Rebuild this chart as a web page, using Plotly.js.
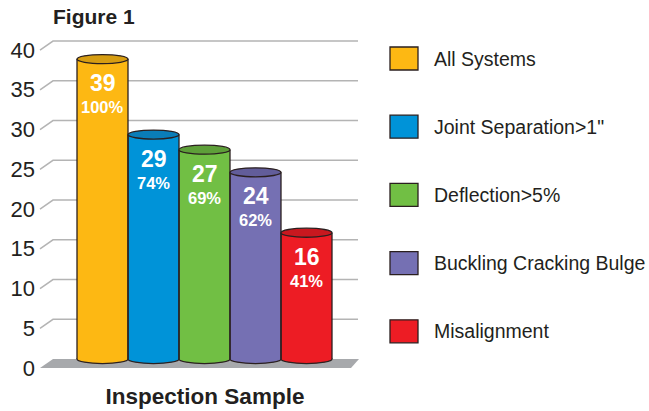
<!DOCTYPE html>
<html>
<head>
<meta charset="utf-8">
<script src="https://cdn.plot.ly/plotly-3.0.1.min.js"></script>
<style>html,body{margin:0;padding:0;background:#fff;}</style>
</head>
<body>
<div id="chart" style="width:649px;height:411px;"></div>
<script>
// ---- data ----
const categories = ["All Systems", "Joint Separation>1\"", "Deflection>5%", "Buckling Cracking Bulge", "Misalignment"];
const values = [39, 29, 27, 24, 16];
const percentLabels = ["100%", "74%", "69%", "62%", "41%"];
const yTicks = [0, 5, 10, 15, 20, 25, 30, 35, 40];
const chartTitle = "Figure 1";
const xTitle = "Inspection Sample";

// ---- styles ----
const colors = ["#FDB813", "#0093D8", "#71BF44", "#7570B3", "#ED1C24"];
const topColors = ["#D69D12", "#0A7DB8", "#5E9F39", "#625D9A", "#C8181F"];
const outline = "#2a1f1f";
const textDark = "#231f20";
const gridColor = "#b4b4b4";
const floorColor = "#a7a9ac";
const FONT = "Liberation Sans, Arial, Helvetica, sans-serif";

// plot-area geometry (px)
const W = 649, H = 411;
const L = 40, R = 370, T = 30, B = 370;
const PW = R - L, PH = B - T;
const px = x => (x - L) / PW;          // px -> paper x
const py = y => (B - y) / PH;          // px -> paper y

const DEPTH = 1.13;        // back-wall offset in front-axis units
const BAR_BASE = -0.73;    // cylinder bottom on bar axis
const ELL = 0.6;           // half-height of ellipse (bar-axis units)

const traces = [];
// invisible trace to anchor front axis
traces.push({type: 'scatter', x: [null], y: [null], xaxis: 'x', yaxis: 'y', showlegend: false, hoverinfo: 'skip'});
values.forEach((v, i) => {
  traces.push({
    type: 'bar', name: categories[i], x: [i], y: [v - BAR_BASE], base: [BAR_BASE], width: [1],
    xaxis: 'x', yaxis: 'y2',
    marker: {color: colors[i], line: {width: 0}},
    showlegend: false, hoverinfo: 'skip'
  });
});

const shapes = [];
// back-wall gridlines with diagonal connectors
yTicks.filter(t => t > 0).forEach(t => {
  shapes.push({
    type: 'path', xref: 'paper', yref: 'y', layer: 'below',
    path: `M ${px(40)},${t} L ${px(53)},${t + DEPTH} L ${px(358)},${t + DEPTH}`,
    line: {color: gridColor, width: 1.5}, fillcolor: 'rgba(0,0,0,0)'
  });
});
// floor
shapes.push({
  type: 'path', xref: 'paper', yref: 'y', layer: 'below',
  path: `M ${px(40)},0 L ${px(53)},${DEPTH} L ${px(359)},${DEPTH} L ${px(351)},0 Z`,
  fillcolor: floorColor, line: {width: 0}
});
// cylinder bottoms (below bars), sides and tops
values.forEach((v, i) => {
  shapes.push({
    type: 'circle', xref: 'x', yref: 'y2', layer: 'below',
    x0: i - 0.5, x1: i + 0.5, y0: BAR_BASE - ELL, y1: BAR_BASE + ELL,
    fillcolor: colors[i], line: {color: outline, width: 1.3}
  });
});
values.forEach((v, i) => {
  [i - 0.5, i + 0.5].forEach(xe => {
    shapes.push({
      type: 'line', xref: 'x', yref: 'y2', layer: 'above',
      x0: xe, x1: xe, y0: BAR_BASE, y1: v,
      line: {color: outline, width: 1.3}
    });
  });
  shapes.push({
    type: 'circle', xref: 'x', yref: 'y2', layer: 'above',
    x0: i - 0.5, x1: i + 0.5, y0: v - ELL, y1: v + ELL,
    fillcolor: topColors[i], line: {color: outline, width: 1.3}
  });
});

const annotations = [];
values.forEach((v, i) => {
  annotations.push({
    x: i, y: v, xref: 'x', yref: 'y2', yshift: -24, showarrow: false,
    text: `<b>${v}</b>`, font: {family: FONT, size: 23, color: '#ffffff'}
  });
  annotations.push({
    x: i, y: v, xref: 'x', yref: 'y2', yshift: -48, showarrow: false,
    text: `<b>${percentLabels[i]}</b>`, font: {family: FONT, size: 16.5, color: '#ffffff'}
  });
});

// manual legend (large swatches)
const LEG_Y0 = 58.5, LEG_STEP = 68.2;
categories.forEach((c, i) => {
  const cy = LEG_Y0 + i * LEG_STEP;
  shapes.push({
    type: 'rect', xref: 'paper', yref: 'paper', layer: 'above',
    x0: px(390), x1: px(418), y0: py(cy + 11.5), y1: py(cy - 11.5),
    fillcolor: colors[i], line: {color: outline, width: 1.3}
  });
  annotations.push({
    x: px(432), y: py(cy), xref: 'paper', yref: 'paper', xanchor: 'left', yanchor: 'middle',
    showarrow: false, text: c, font: {family: FONT, size: 19.5, color: textDark}
  });
});

const layout = {
  width: W, height: H,
  margin: {l: L, r: W - R, t: T, b: H - B, pad: 0},
  paper_bgcolor: '#ffffff', plot_bgcolor: 'rgba(0,0,0,0)',
  showlegend: false,
  title: {
    text: `<b>${chartTitle}</b>`, font: {family: FONT, size: 21, color: textDark},
    xref: 'container', yref: 'container', x: 53 / W, xanchor: 'left', y: 1 - 17 / H, yanchor: 'middle'
  },
  xaxis: {
    range: [-1.2255, 5.245], showgrid: false, zeroline: false, showline: false,
    showticklabels: false, ticks: '', fixedrange: true,
    title: {text: `<b>${xTitle}</b>`, font: {family: FONT, size: 22.5, color: textDark}, standoff: 18}
  },
  yaxis: {
    range: [-0.25, 42.52], tickvals: yTicks, ticktext: yTicks.map(String),
    showgrid: false, zeroline: false, showline: false, ticks: '',
    tickfont: {family: FONT, size: 22, color: textDark}, ticklabelstandoff: 4, fixedrange: true
  },
  yaxis2: {
    range: [-2.185, 42.85], overlaying: 'y', visible: false, showgrid: false, zeroline: false, fixedrange: true
  },
  barmode: 'overlay', bargap: 0,
  shapes: shapes, annotations: annotations
};

Plotly.newPlot('chart', traces, layout, {displayModeBar: false, staticPlot: true});
</script>
</body>
</html>
